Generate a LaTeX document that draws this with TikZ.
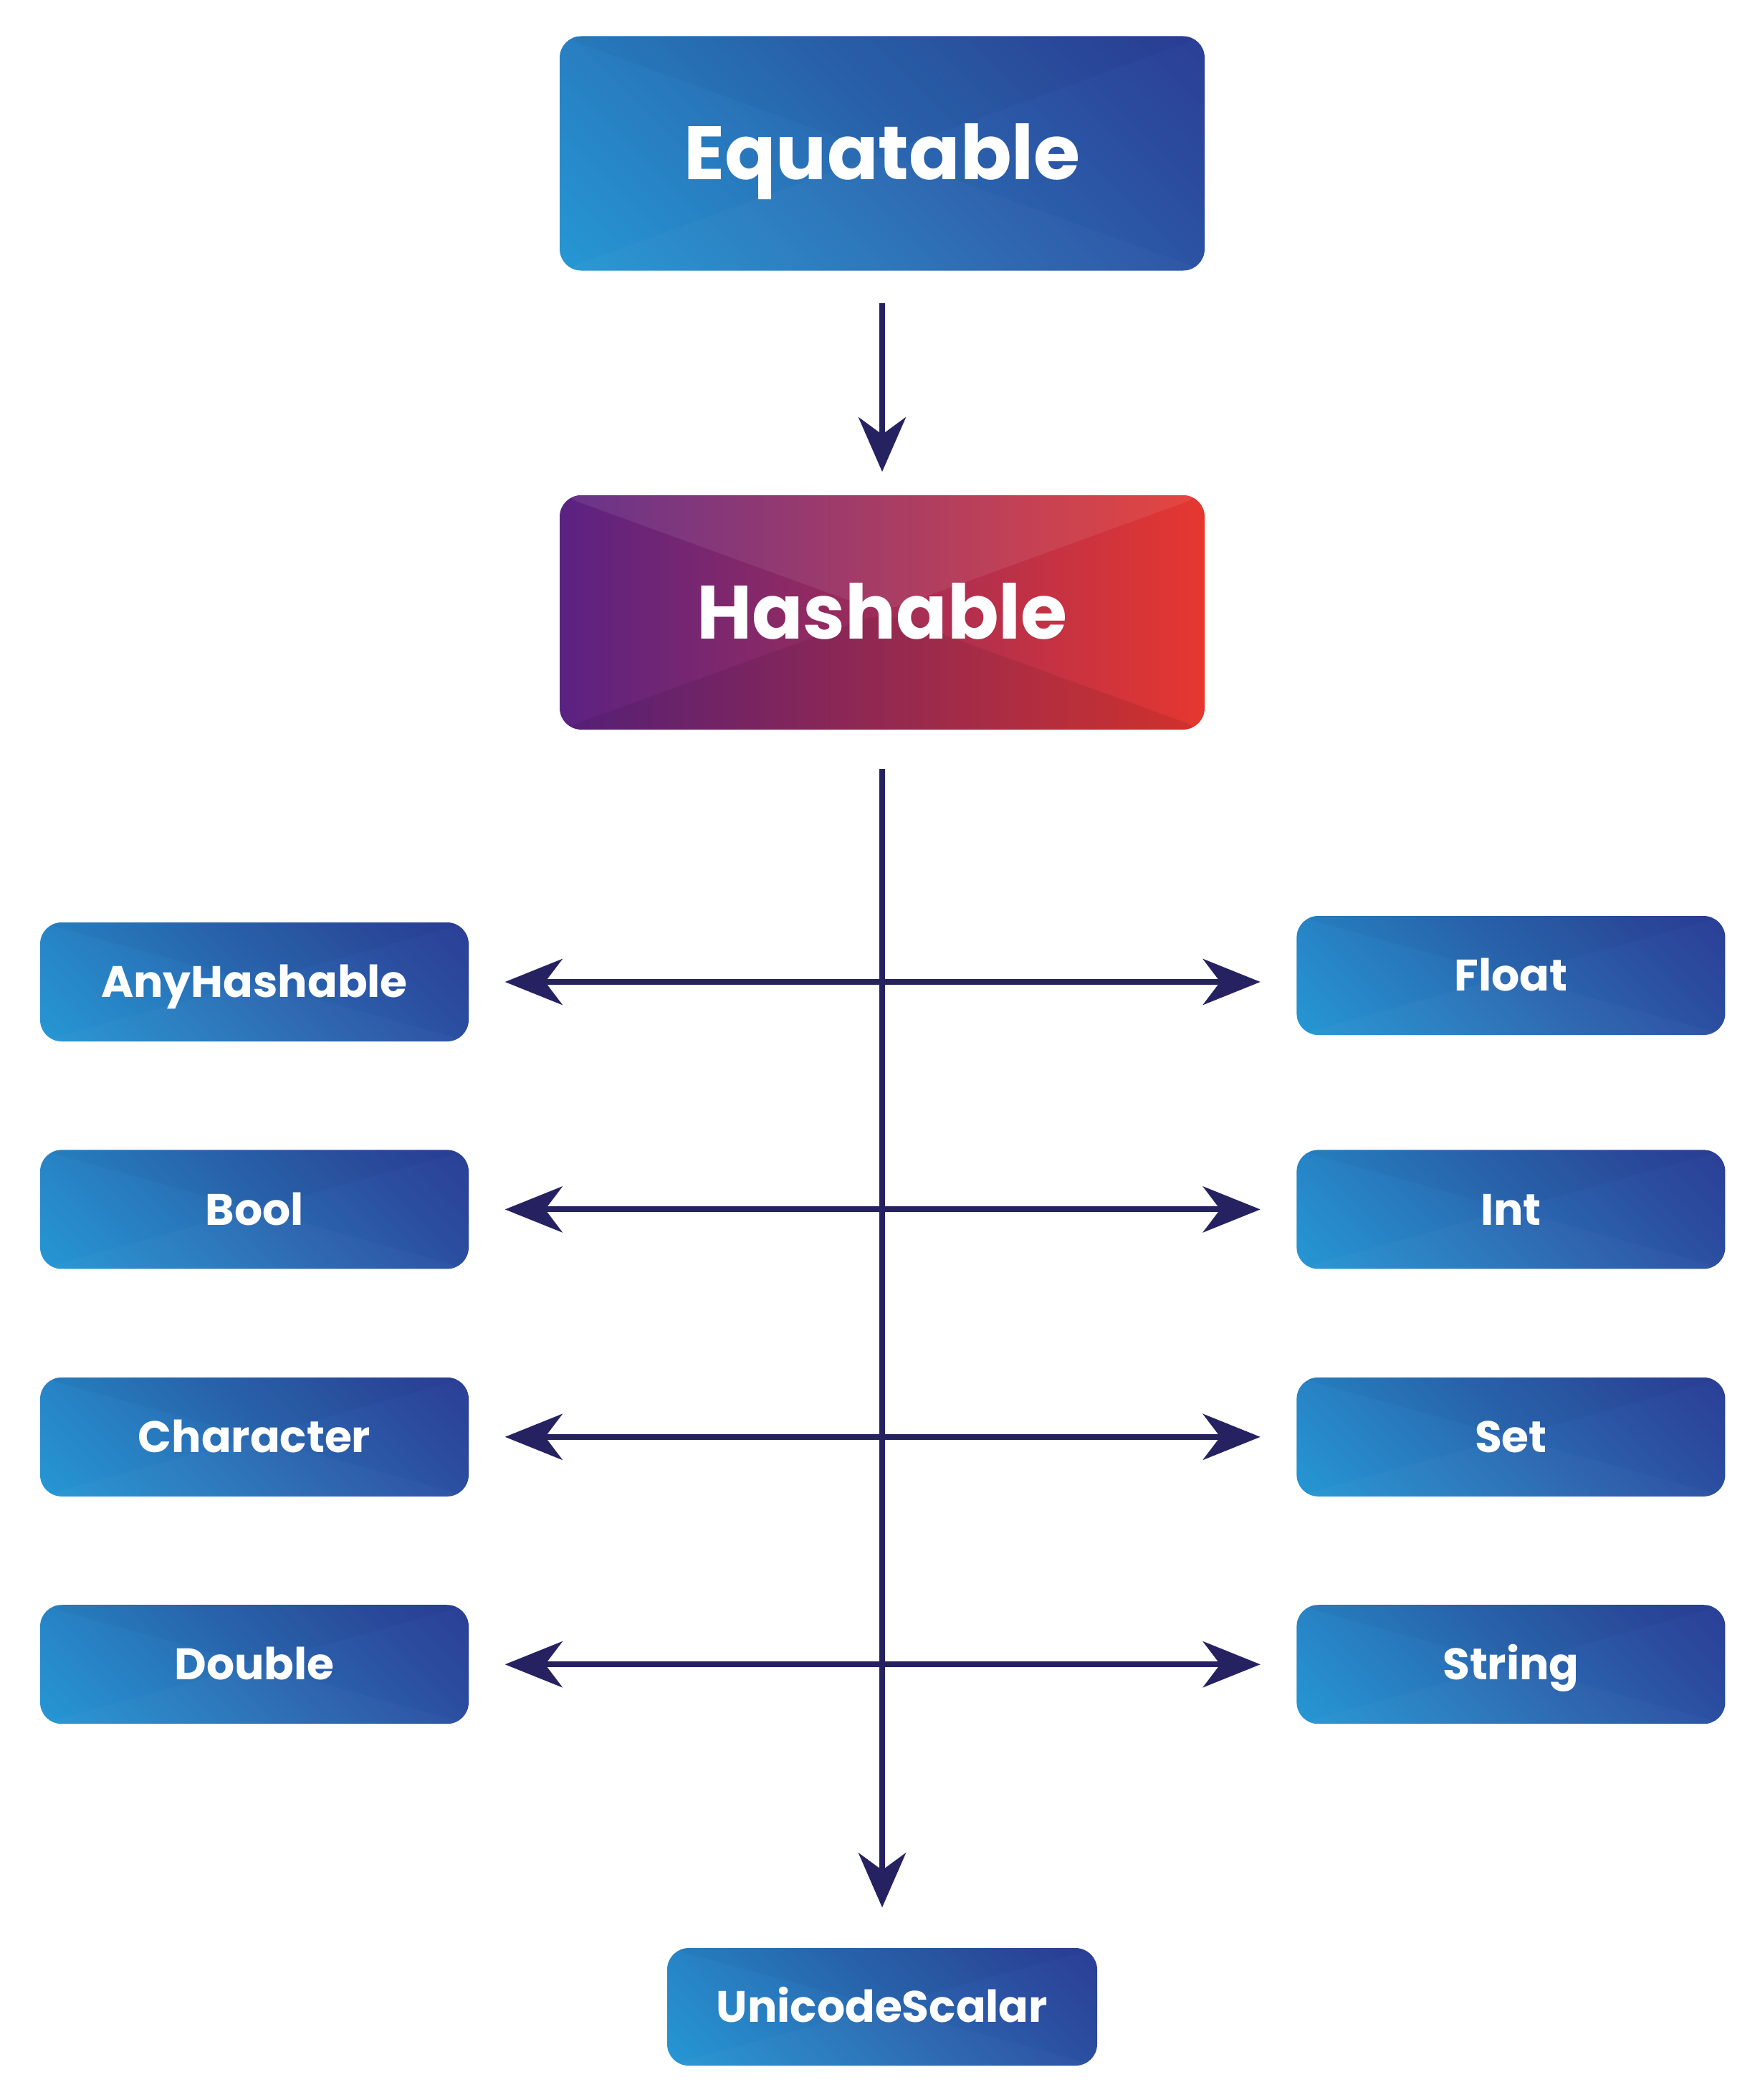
\documentclass[tikz,border=0pt]{standalone}
\usepackage{fontspec}
\usepackage{xcolor}
\usepackage{tikz}
\usetikzlibrary{arrows.meta, positioning}
\newfontfamily\boxfont{Poppins}
\definecolor{hashpurple}{HTML}{5A2282}
\definecolor{hashred}{HTML}{E6372F}
\definecolor{arrownavy}{HTML}{262262}
\pgfdeclarehorizontalshading{bluefade}{100bp}{%
  color(0bp)=(rgb,255:red,37;green,170;blue,226);
  color(28bp)=(rgb,255:red,39;green,134;blue,199);
  color(50bp)=(rgb,255:red,42;green,104;blue,177);
  color(72bp)=(rgb,255:red,43;green,76;blue,159);
  color(100bp)=(rgb,255:red,44;green,49;blue,140)}

\begin{document}
\begin{tikzpicture}[
  facets/.style 2 args={path picture={
      \fill[#1] (path picture bounding box.north west)
        -- (path picture bounding box.center) -- (path picture bounding box.north east) -- cycle;
      \fill[#2] (path picture bounding box.south west)
        -- (path picture bounding box.center) -- (path picture bounding box.south east) -- cycle;}},
  bluebox/.style={rounded corners=0.3cm, shade, shading=bluefade, shading angle=45,
                  facets={black, opacity=0.03}{white, opacity=0.025},
                  text=white, inner sep=0pt},
  bigbox/.style={bluebox, minimum width=9cm, minimum height=3.27cm, text height=21pt, text depth=0pt,
                 font=\boxfont\bfseries\fontsize{30}{36}\selectfont},
  smallbox/.style={bluebox, minimum width=5.98cm, minimum height=1.66cm, text height=12.3pt, text depth=0pt,
                   font=\boxfont\bfseries\fontsize{17.5}{20}\selectfont},
  hashbox/.style={rounded corners=0.3cm, left color=hashpurple, right color=hashred,
                  facets={white, opacity=0.08}{black, opacity=0.08}, text=white, inner sep=0pt,
                  minimum width=9cm, minimum height=3.27cm, text height=21pt, text depth=0pt,
                  font=\boxfont\bfseries\fontsize{30}{36}\selectfont},
  arr/.style={-{Stealth[length=0.76cm, width=0.66cm, inset=0.24cm]}, line width=0.08cm, draw=arrownavy},
  dblarr/.style={{Stealth[length=0.8cm, width=0.64cm, inset=0.24cm]}-{Stealth[length=0.8cm, width=0.64cm, inset=0.24cm]},
                 line width=0.08cm, draw=arrownavy, shorten <=0.5cm, shorten >=0.5cm},
]
  \fill[white] (0,0) rectangle (24.49,-29.30);
  \useasboundingbox (0,0) rectangle (24.49,-29.30);

  \node[bigbox] (eq) at (12.31,-2.14) {Equatable};
  \node[hashbox, below=3.12cm of eq] (hash) {Hashable};
  \node[smallbox, minimum width=6cm, minimum height=1.64cm] (uni) at (12.31,-28.00) {UnicodeScalar};

  \node[smallbox] (any) at (3.55,-13.70) {AnyHashable};
  \node[smallbox, below=1.50cm of any] (bool) {Bool};
  \node[smallbox, below=1.50cm of bool] (char) {Character};
  \node[smallbox, below=1.50cm of char] (dbl) {Double};

  \node[smallbox, right=11.54cm of any, yshift=0.09cm] (flt) {Float};
  \node[smallbox, right=11.54cm of bool] (int) {Int};
  \node[smallbox, right=11.54cm of char] (set) {Set};
  \node[smallbox, right=11.54cm of dbl] (str) {String};

  \draw[arr, shorten <=0.45cm, shorten >=0.32cm] (eq) -- (hash);
  \draw[arr, shorten <=0.54cm, shorten >=0.56cm] (hash) -- (uni);

  \draw[dblarr] (any.east) -- (any.east -| flt.west);
  \draw[dblarr] (bool) -- (int);
  \draw[dblarr] (char) -- (set);
  \draw[dblarr] (dbl) -- (str);
\end{tikzpicture}
\end{document}
